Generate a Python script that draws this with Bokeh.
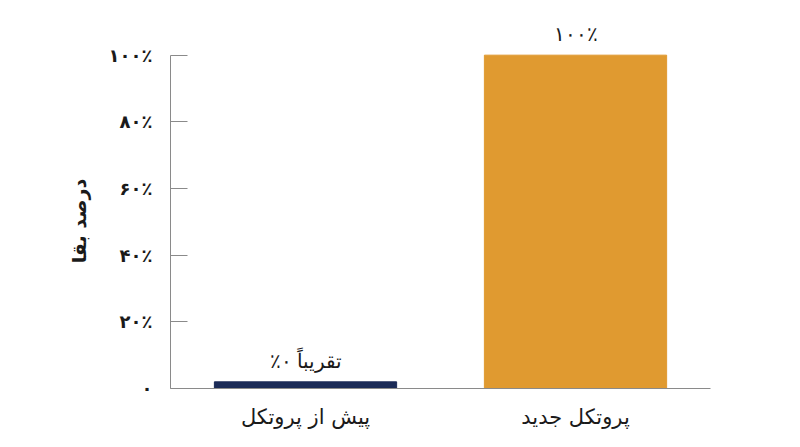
from bokeh.plotting import figure
from bokeh.models import ColumnDataSource, LabelSet, FixedTicker, FactorRange, Range1d
from bokeh.embed import file_html
from bokeh.resources import INLINE

RLE, PDF = "\u202B", "\u202C"

categories = ["پیش از پروتکل", "پروتکل جدید"]
values = [2, 100]
value_labels = ["تقریباً ۰٪", "۱۰۰٪"]
colors = ["#1b2b57", "#e09a30"]
y_ticks = [0, 20, 40, 60, 80, 100]
y_tick_labels = ["۰", "۲۰٪", "۴۰٪", "۶۰٪", "۸۰٪", "۱۰۰٪"]
y_title = "درصد بقا"

FONT = "DejaVu Sans"

src = ColumnDataSource(dict(cat=categories, val=values,
                            lab=[RLE + s + PDF for s in value_labels], col=colors))

p = figure(x_range=FactorRange(*categories), y_range=Range1d(0, 110.4),
           width=784, height=431, output_backend="svg", toolbar_location=None,
           min_border_left=170, min_border_right=74, min_border_top=20, min_border_bottom=40)
p.outline_line_color = None
p.grid.visible = False
p.background_fill_color = "white"
p.border_fill_color = "white"

p.vbar(x="cat", top="val", width=0.675, color="col", source=src)

labels = LabelSet(x="cat", y="val", text="lab", source=src, text_align="center",
                  text_baseline="bottom", y_offset=10, text_font=FONT,
                  text_font_size="20px", text_color="#1a1a1a")
p.add_layout(labels)

ya = p.yaxis[0]
ya.bounds = (0, 100)
ya.ticker = FixedTicker(ticks=y_ticks)
ya.major_label_overrides = {t: RLE + l + PDF for t, l in zip(y_ticks, y_tick_labels)}
ya.major_tick_in = 17
ya.major_tick_out = 0
ya.minor_tick_line_color = None
ya.axis_line_color = "#8a8a8a"
ya.major_tick_line_color = "#8a8a8a"
ya.major_label_standoff = 18
ya.major_label_text_font = FONT
ya.major_label_text_font_size = "18px"
ya.major_label_text_font_style = "bold"
ya.major_label_text_color = "#1a1a1a"
# padding on the top side keeps the title centred on the 0–100 span
ya.axis_label = RLE + "\u00A0" * 5 + y_title + PDF
ya.axis_label_text_font = FONT
ya.axis_label_text_font_size = "19px"
ya.axis_label_text_font_style = "bold"
ya.axis_label_text_color = "#1a1a1a"
ya.axis_label_standoff = 16

xa = p.xaxis[0]
xa.major_tick_line_color = None
xa.minor_tick_line_color = None
xa.axis_line_color = "#8a8a8a"
xa.major_label_standoff = 10
xa.major_label_text_font = FONT
xa.major_label_text_font_size = "21px"
xa.major_label_text_color = "#1a1a1a"

open("out.html", "w").write(file_html(p, INLINE))
